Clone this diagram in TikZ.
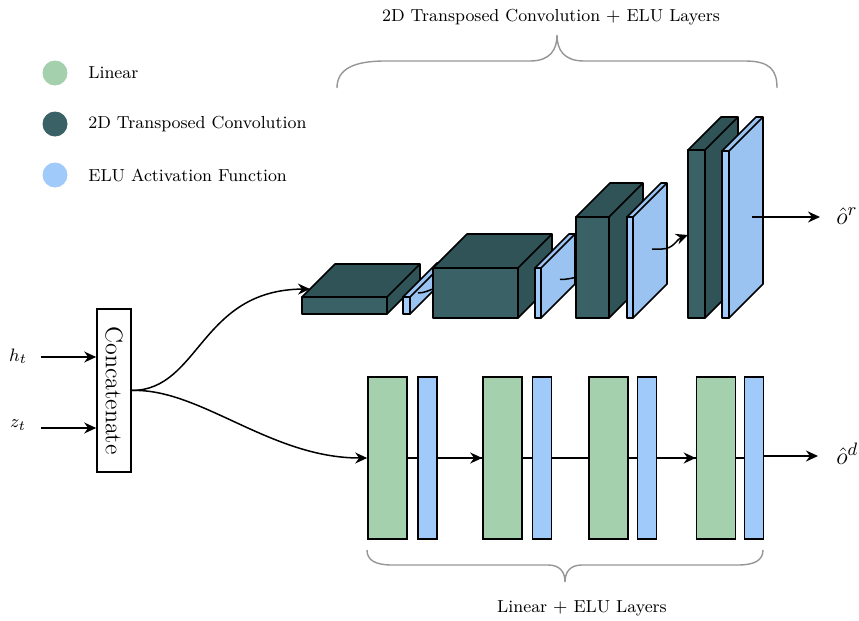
\documentclass[tikz,border=0pt]{standalone}
\usetikzlibrary{arrows.meta}

\definecolor{lingreen}{RGB}{164,208,174}
\definecolor{convfront}{RGB}{58,97,101}
\definecolor{convdark}{RGB}{47,83,87}
\definecolor{elublue}{RGB}{160,202,250}
\definecolor{eludark}{RGB}{154,195,242}
\definecolor{bracegray}{RGB}{150,150,150}

\tikzset{
  edge/.style={line width=0.75pt},
  flow/.style={edge, -{Stealth[length=6pt,width=5.5pt]}},
  cubeedge/.style={line width=0.8pt, line join=round},
  slab/.style={draw, line width=0.8pt, inner sep=0pt, minimum height=81pt},
  linbox/.style={slab, fill=lingreen, minimum width=19.5pt},
  elubox/.style={slab, fill=elublue, minimum width=9.5pt},
  legdot/.style={circle, inner sep=0pt, minimum size=12.5pt},
  smalltext/.style={font=\fontsize{8.7}{10}\selectfont},
  legtext/.style={smalltext, anchor=west, inner sep=0pt},
  mathlabel/.style={font=\fontsize{9.5}{11}\selectfont},
  outlabel/.style={font=\fontsize{12.5}{14}\selectfont, inner sep=0pt},
  bracepath/.style={draw=bracegray, line width=0.7pt},
}

% A layer drawn as a cuboid: front face plus receding top and right faces.
% #1 name, (#2,#3) front top-left corner, #4 width, #5 height,
% #6 depth, #7 front fill, #8 top/side fill
\newcommand{\layercube}[8]{%
  \coordinate (#1-tl) at (#2,#3);
  \coordinate (#1-tr) at (#2+#4,#3);
  \coordinate (#1-br) at (#2+#4,#3+#5);
  \coordinate (#1-bl) at (#2,#3+#5);
  \filldraw[cubeedge, fill=#8] (#1-tl) -- ++(#6,-#6) -- ++(#4,0) -- ++(0,#5)
    -- (#1-br) -- (#1-tr) -- cycle;
  \draw[cubeedge] (#1-tr) -- ++(#6,-#6);
  \filldraw[cubeedge, fill=#7] (#1-tl) rectangle (#1-br);
}

\begin{document}
\begin{tikzpicture}[x=0.5pt, y=-0.5pt]
\useasboundingbox (0,0) rectangle (859,621);

% ---------- legend ----------
\node[legdot, fill=lingreen]  (dotlin)  at (55,73)  {};
\node[legdot, fill=convfront] (dotconv) at (55,124) {};
\node[legdot, fill=elublue]   (dotelu)  at (55,175) {};
\node[legtext] (leglin)  at (88,73)  {Linear};
\node[legtext] (legconv) at (88,124) {2D Transposed Convolution};
\node[legtext] (legelu)  at (88,175) {ELU Activation Function};

% ---------- inputs ----------
\node[mathlabel] (h) at (18,356) {$h_t$};
\node[mathlabel] (z) at (18,425) {$z_t$};
\node[draw, line width=0.8pt, fill=white, inner sep=0pt,
      minimum width=17pt, minimum height=81.5pt] (concat) at (114,390.5) {};
\node[rotate=-90, font=\fontsize{12}{14}\selectfont] (concattext) at (concat.center) {Concatenate};
\coordinate (hstart) at (41,357);
\coordinate (zstart) at (41,428);
\draw[flow] (hstart) -- (hstart -| concat.west);
\draw[flow] (zstart) -- (zstart -| concat.west);

% ---------- transposed convolution branch ----------
\layercube{c1}{302}{297}{85}{17}{33}{convfront}{convdark}
\coordinate (c1in) at (310,289);
\draw[flow] (concat.east) .. controls (200,390) and (200,290) .. (c1in);
\layercube{e1}{403}{297}{7}{17}{34}{elublue}{eludark}
\coordinate (e1out) at (418,293);
\coordinate (c2in) at (436,288);
\draw[edge] (e1out) to[out=0,in=195] (c2in);
\layercube{c2}{433}{268}{85}{50}{34}{convfront}{convdark}
\layercube{e2}{535}{268}{6}{50}{34}{elublue}{eludark}
\coordinate (e2out) at (560,279.5);
\coordinate (c3in) at (578,277);
\draw[edge] (e2out) to[out=0,in=190] (c3in);
\layercube{c3}{576}{217}{33}{101}{34}{convfront}{convdark}
\layercube{e3}{627}{217}{6}{101}{34}{elublue}{eludark}
\coordinate (e3out) at (652,249);
\coordinate (c4in) at (688,235);
\draw[flow] (e3out) -- (662,249) to[out=0,in=200] (c4in);
\layercube{c4}{688}{150}{17}{168}{33}{convfront}{convdark}
\layercube{e4}{722}{151}{7}{167}{34}{elublue}{eludark}
\coordinate (e4out) at (752,217);
\node[outlabel, anchor=west] (or) at (836,216) {$\hat{o}^r$};
\draw[flow] (e4out) -- (820,217);

% ---------- linear branch ----------
\draw[edge] (387,458) -- (754,458);
\node[linbox] (g1) at (387.5,458) {};
\node[elubox] (b1) at (427.5,458) {};
\node[linbox] (g2) at (502.5,458) {};
\node[elubox] (b2) at (542,458)   {};
\node[linbox] (g3) at (608.5,458) {};
\node[elubox] (b3) at (647,458)   {};
\node[linbox] (g4) at (716,458)   {};
\node[elubox] (b4) at (754,458)   {};
\draw[flow] (concat.east) .. controls (200,388) and (270,458) .. (g1.west);
\draw[flow] (b1.east) -- (g2.west);
\draw[flow] (b3.east) -- (g4.west);
\node[outlabel, anchor=west] (od) at (836,454) {$\hat{o}^d$};
\draw[flow] (b4.east |- 0,456) -- (818,456);

% ---------- braces and group titles ----------
\draw[bracepath] (337,88) .. controls (337,70) and (352,61) .. (385,61)
  -- (530,61) .. controls (550,61) and (557,50) .. (557,35)
  .. controls (557,50) and (564,61) .. (584,61)
  -- (745,61) .. controls (770,61) and (777,70) .. (777,88);
\node[smalltext] (toptitle) at (551,17) {2D Transposed Convolution $+$ ELU Layers};

\draw[bracepath] (367,550) .. controls (367,560) and (375,565) .. (392,565)
  -- (548,565) .. controls (560,565) and (565,572) .. (565,582)
  .. controls (565,572) and (570,565) .. (582,565)
  -- (738,565) .. controls (755,565) and (763,560) .. (763,550);
\node[smalltext] (bottitle) at (582,608) {Linear $+$ ELU Layers};

\end{tikzpicture}
\end{document}
